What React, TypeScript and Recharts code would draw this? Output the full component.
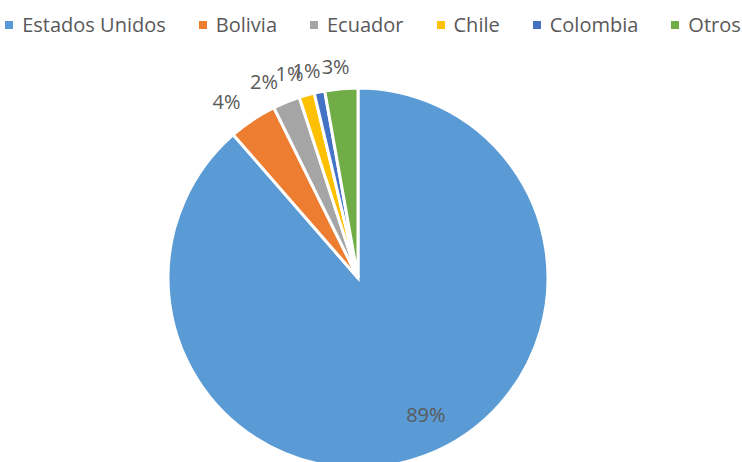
import React from 'react';
import { PieChart, Pie, Cell } from 'recharts';

const countries = ['Estados Unidos', 'Bolivia', 'Ecuador', 'Chile', 'Colombia', 'Otros'];
const shares = [88.6, 4.1, 2.3, 1.3, 0.9, 2.8];
const colors = ['#5B9BD5', '#ED7D31', '#A5A5A5', '#FFC000', '#4472C4', '#70AD47'];

const data = countries.map((name, i) => ({ name, value: shares[i] }));

const FONT = '"Open Sans", "Noto Sans", sans-serif';
const RAD = Math.PI / 180;

const renderLabel = (props: any) => {
  const { cx, cy, midAngle, outerRadius, percent, index } = props;
  const text = `${Math.round(percent * 100)}%`;
  if (index === 0) {
    const a = midAngle + 6;
    const r = outerRadius * 0.8;
    return (
      <text x={cx + r * Math.cos(-a * RAD)} y={cy + r * Math.sin(-a * RAD)} fill="#595959" fontSize={20}
        fontFamily={FONT} textAnchor="middle" dominantBaseline="central">
        {text}
      </text>
    );
  }
  // outside labels, pushed away from the pie side like Excel's best fit
  const r = outerRadius + 22;
  const c = Math.cos(-midAngle * RAD);
  const s = Math.sin(-midAngle * RAD);
  const half = 14;
  const x = cx + r * c + Math.sign(c) * half * Math.min(1, Math.abs(c) * 3);
  const y = cy + r * s;
  return (
    <text x={x} y={y} fill="#595959" fontSize={20} fontFamily={FONT} textAnchor="middle"
      dominantBaseline="central">
      {text}
    </text>
  );
};

export default function App() {
  return (
    <div style={{ position: 'absolute', left: 0, top: 0, width: 742, height: 462, background: '#fff' }}>
      <div
        style={{
          position: 'absolute',
          top: 11,
          left: 2,
          width: 742,
          display: 'flex',
          justifyContent: 'center',
          gap: 33,
          fontFamily: FONT,
          fontSize: 20,
          color: '#595959',
          whiteSpace: 'nowrap',
        }}
      >
        {countries.map((name, i) => (
          <div key={name} style={{ display: 'flex', alignItems: 'center' }}>
            <span
              style={{
                display: 'inline-block',
                width: 8,
                height: 8,
                background: colors[i],
                marginRight: 9,
              }}
            />
            {name}
          </div>
        ))}
      </div>
      <PieChart width={742} height={462} margin={{ top: 0, right: 0, bottom: 0, left: 0 }}>
        <Pie
          data={data}
          dataKey="value"
          nameKey="name"
          cx={358}
          cy={278}
          outerRadius={190}
          startAngle={90}
          endAngle={-270}
          stroke="#fff"
          strokeWidth={3}
          label={renderLabel}
          labelLine={false}
          isAnimationActive={false}
        >
          {data.map((d, i) => (
            <Cell key={d.name} fill={colors[i]} />
          ))}
        </Pie>
      </PieChart>
    </div>
  );
}
